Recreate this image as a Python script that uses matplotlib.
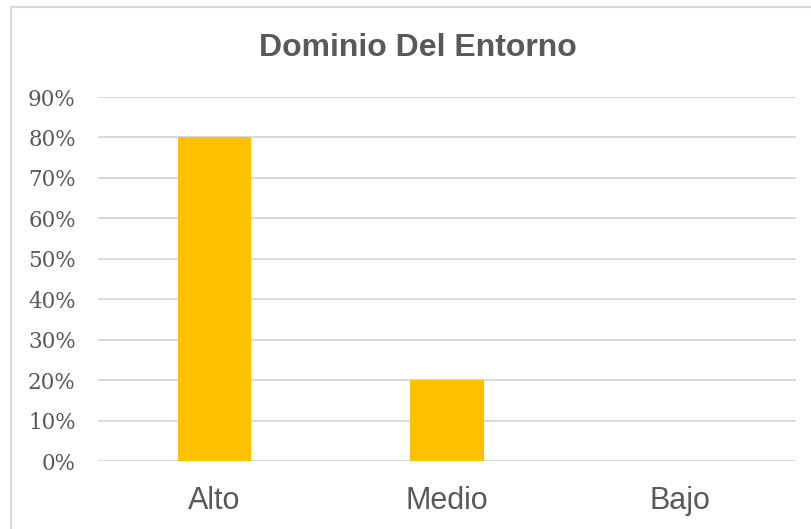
import matplotlib.pyplot as plt
from matplotlib.patches import Rectangle
from matplotlib.ticker import FuncFormatter

categories = ["Alto", "Medio", "Bajo"]
values = [0.80, 0.20, 0.0]
y_ticks = [0.0, 0.1, 0.2, 0.3, 0.4, 0.5, 0.6, 0.7, 0.8, 0.9]

W, H = 812, 529
fig = plt.figure(figsize=(W / 100, H / 100), dpi=100)

# light frame around the chart area
fig.patches.append(Rectangle((11 / W, -0.05), 1.1, 1 - 6.5 / H + 0.05,
                             transform=fig.transFigure, fill=False,
                             edgecolor="#D9D9D9", linewidth=1.5))

ax = fig.add_axes([98 / W, 68 / H, (796 - 98) / W, (461 - 97) / H])
x = list(range(len(categories)))
ax.bar(x, values, width=0.314, color="#FFC000", zorder=3)

ax.set_xlim(-0.5, 2.5)
ax.set_ylim(0, 0.9)
ax.set_yticks(y_ticks)
ax.yaxis.set_major_formatter(FuncFormatter(lambda v, p: f"{v * 100:.0f}%"))
ax.set_xticks(x)
ax.set_xticklabels(categories, fontfamily="Liberation Sans", fontsize=22,
                   color="#595959")
for lab in ax.get_yticklabels():
    lab.set_fontfamily("DejaVu Serif")
    lab.set_fontsize(15.5)
    lab.set_color("#595959")

ax.tick_params(axis="x", length=0, pad=18)
ax.tick_params(axis="y", length=0, pad=16)
ax.grid(axis="y", color="#D9D9D9", linewidth=1.4, zorder=0)
for s in ax.spines.values():
    s.set_visible(False)

fig.text(418 / W, 1 - 48 / H, "Dominio Del Entorno", ha="center", va="center",
         fontfamily="Liberation Sans", fontweight="bold", fontsize=23,
         color="#595959")

fig.savefig("out.png", dpi=100)
